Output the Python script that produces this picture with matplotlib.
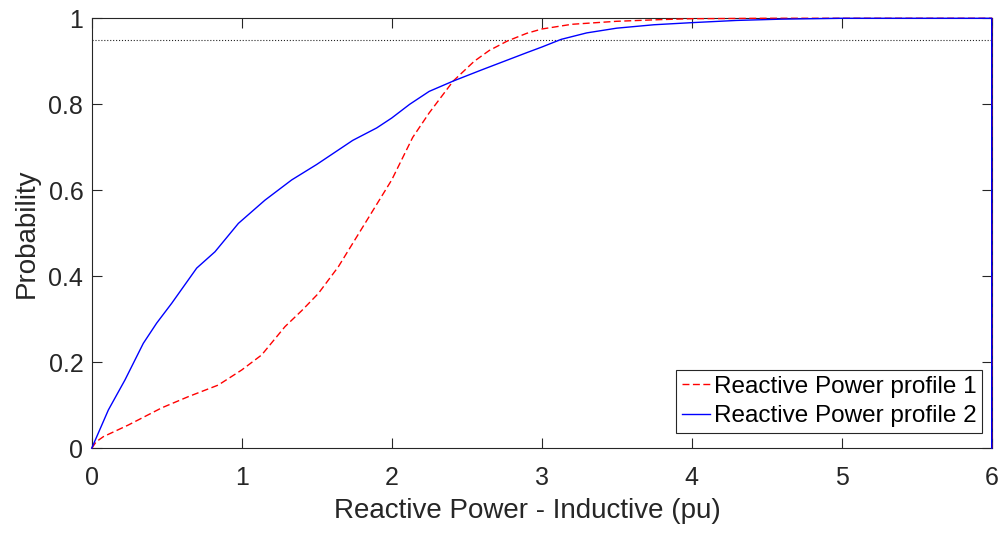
import numpy as np
import matplotlib.pyplot as plt

plt.rcParams['font.family'] = ['Liberation Sans', 'DejaVu Sans']

# profile 1 (red dashed)
x1 = [0, 0.03, 0.078, 0.244, 0.467, 0.644, 0.844, 1.0, 1.133, 1.289, 1.4, 1.511, 1.644, 1.822, 2.0,
      2.14, 2.25, 2.41, 2.55, 2.65, 2.77, 2.9, 3.0, 3.2, 3.5, 3.8, 4.0, 4.5, 5.0, 6.0, 6.0]
y1 = [0, 0.015, 0.027, 0.054, 0.094, 0.12, 0.147, 0.182, 0.217, 0.283, 0.32, 0.36, 0.422, 0.523, 0.624,
      0.723, 0.78, 0.854, 0.90, 0.925, 0.947, 0.965, 0.975, 0.986, 0.993, 0.997, 0.999, 1.0, 1.0, 1.0, 0.0]

# profile 2 (blue solid)
x2 = [0, 0.111, 0.222, 0.344, 0.433, 0.533, 0.70, 0.822, 0.978, 1.155, 1.333, 1.5, 1.74, 1.9, 2.0,
      2.12, 2.25, 2.41, 2.6, 2.75, 2.9, 3.0, 3.13, 3.3, 3.5, 3.75, 4.01, 4.3, 4.6, 5.0, 6.0, 6.0]
y2 = [0, 0.089, 0.159, 0.244, 0.291, 0.337, 0.419, 0.457, 0.523, 0.577, 0.624, 0.66, 0.716, 0.745, 0.768,
      0.80, 0.83, 0.854, 0.88, 0.90, 0.92, 0.933, 0.951, 0.966, 0.977, 0.985, 0.99, 0.995, 0.998, 1.0, 1.0, 0.0]

fig = plt.figure(figsize=(10, 5.33), dpi=100)
ax = fig.add_axes([0.0917, 0.159, 0.9, 0.8067])

ax.plot(x1, y1, color='#ff0000', ls='--', dashes=(5, 2.5), lw=1, zorder=3, clip_on=False,
        label='Reactive Power profile 1')
ax.plot(x2, y2, color='#0000ff', ls='-', lw=1, zorder=3, clip_on=False,
        label='Reactive Power profile 2')
ax.axhline(0.95, color='#262626', ls=':', lw=0.8)

ax.set_xlim(0, 6)
ax.set_ylim(0, 1)
ax.set_xticks(range(7))
ax.set_yticks([0, 0.2, 0.4, 0.6, 0.8, 1])
ax.set_yticklabels(['0', '0.2', '0.4', '0.6', '0.8', '1'])
ax.tick_params(direction='in', top=True, right=True, labelsize=18, colors='#262626',
               length=7, width=0.8)
ax.tick_params(axis='x', pad=12.5)
ax.tick_params(axis='y', pad=6)
for s in ax.spines.values():
    s.set_color('#262626')
    s.set_linewidth(0.8)

ax.set_xlabel('Reactive Power - Inductive (pu)', fontsize=20, color='#262626', labelpad=8)
ax.xaxis.set_label_coords(0.4837, -0.115)
ax.set_ylabel('Probability', fontsize=20, color='#262626', labelpad=6)

leg = ax.legend(loc='lower right', bbox_to_anchor=(0.9896, 0.035), fontsize=17.5,
                fancybox=False, framealpha=1, edgecolor='#262626', handlelength=1.15,
                handletextpad=0.15, borderpad=0.25, labelspacing=0.3, borderaxespad=0)
leg.get_frame().set_linewidth(0.8)

fig.savefig('out.png', dpi=100)
